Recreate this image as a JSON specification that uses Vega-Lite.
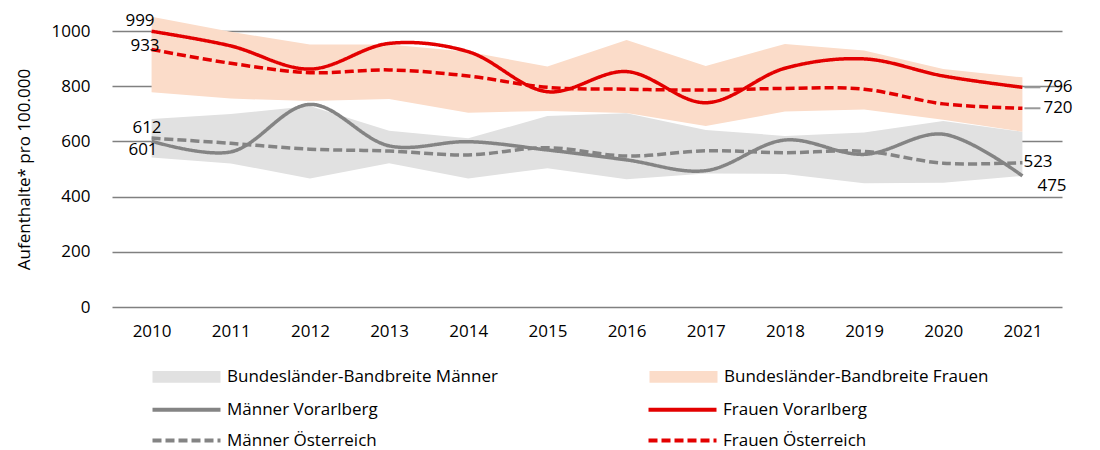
{
  "$schema": "https://vega.github.io/schema/vega-lite/v6.json",
  "width": 950,
  "height": 276,
  "autosize": {"type": "none"},
  "padding": {"left": 112, "top": 31, "right": 38, "bottom": 143},
  "config": {"font": "Open Sans", "view": {"stroke": null}},
  "datasets": {
    "bands": [
      {"year": "2010", "series": "Bundesländer-Bandbreite Männer", "low": 542, "high": 681},
      {"year": "2011", "series": "Bundesländer-Bandbreite Männer", "low": 520, "high": 699},
      {"year": "2012", "series": "Bundesländer-Bandbreite Männer", "low": 466, "high": 728},
      {"year": "2013", "series": "Bundesländer-Bandbreite Männer", "low": 521, "high": 639},
      {"year": "2014", "series": "Bundesländer-Bandbreite Männer", "low": 466, "high": 611},
      {"year": "2015", "series": "Bundesländer-Bandbreite Männer", "low": 503, "high": 692},
      {"year": "2016", "series": "Bundesländer-Bandbreite Männer", "low": 463, "high": 702},
      {"year": "2017", "series": "Bundesländer-Bandbreite Männer", "low": 484, "high": 641},
      {"year": "2018", "series": "Bundesländer-Bandbreite Männer", "low": 482, "high": 620},
      {"year": "2019", "series": "Bundesländer-Bandbreite Männer", "low": 448, "high": 632},
      {"year": "2020", "series": "Bundesländer-Bandbreite Männer", "low": 450, "high": 674},
      {"year": "2021", "series": "Bundesländer-Bandbreite Männer", "low": 475, "high": 635},
      {"year": "2010", "series": "Bundesländer-Bandbreite Frauen", "low": 778, "high": 1052},
      {"year": "2011", "series": "Bundesländer-Bandbreite Frauen", "low": 755, "high": 997},
      {"year": "2012", "series": "Bundesländer-Bandbreite Frauen", "low": 746, "high": 951},
      {"year": "2013", "series": "Bundesländer-Bandbreite Frauen", "low": 754, "high": 951},
      {"year": "2014", "series": "Bundesländer-Bandbreite Frauen", "low": 704, "high": 925},
      {"year": "2015", "series": "Bundesländer-Bandbreite Frauen", "low": 710, "high": 871},
      {"year": "2016", "series": "Bundesländer-Bandbreite Frauen", "low": 703, "high": 967},
      {"year": "2017", "series": "Bundesländer-Bandbreite Frauen", "low": 656, "high": 873},
      {"year": "2018", "series": "Bundesländer-Bandbreite Frauen", "low": 708, "high": 953},
      {"year": "2019", "series": "Bundesländer-Bandbreite Frauen", "low": 716, "high": 929},
      {"year": "2020", "series": "Bundesländer-Bandbreite Frauen", "low": 678, "high": 862},
      {"year": "2021", "series": "Bundesländer-Bandbreite Frauen", "low": 635, "high": 832}
    ],
    "lines": [
      {"year": "2010", "series": "Frauen Vorarlberg", "value": 999},
      {"year": "2011", "series": "Frauen Vorarlberg", "value": 946},
      {"year": "2012", "series": "Frauen Vorarlberg", "value": 862},
      {"year": "2013", "series": "Frauen Vorarlberg", "value": 955},
      {"year": "2014", "series": "Frauen Vorarlberg", "value": 925},
      {"year": "2015", "series": "Frauen Vorarlberg", "value": 780},
      {"year": "2016", "series": "Frauen Vorarlberg", "value": 853},
      {"year": "2017", "series": "Frauen Vorarlberg", "value": 740},
      {"year": "2018", "series": "Frauen Vorarlberg", "value": 865},
      {"year": "2019", "series": "Frauen Vorarlberg", "value": 899},
      {"year": "2020", "series": "Frauen Vorarlberg", "value": 837},
      {"year": "2021", "series": "Frauen Vorarlberg", "value": 796},
      {"year": "2010", "series": "Frauen Österreich", "value": 933},
      {"year": "2011", "series": "Frauen Österreich", "value": 883},
      {"year": "2012", "series": "Frauen Österreich", "value": 849},
      {"year": "2013", "series": "Frauen Österreich", "value": 859},
      {"year": "2014", "series": "Frauen Österreich", "value": 837},
      {"year": "2015", "series": "Frauen Österreich", "value": 796},
      {"year": "2016", "series": "Frauen Österreich", "value": 789},
      {"year": "2017", "series": "Frauen Österreich", "value": 786},
      {"year": "2018", "series": "Frauen Österreich", "value": 792},
      {"year": "2019", "series": "Frauen Österreich", "value": 789},
      {"year": "2020", "series": "Frauen Österreich", "value": 736},
      {"year": "2021", "series": "Frauen Österreich", "value": 720},
      {"year": "2010", "series": "Männer Vorarlberg", "value": 601},
      {"year": "2011", "series": "Männer Vorarlberg", "value": 562},
      {"year": "2012", "series": "Männer Vorarlberg", "value": 734},
      {"year": "2013", "series": "Männer Vorarlberg", "value": 584},
      {"year": "2014", "series": "Männer Vorarlberg", "value": 599},
      {"year": "2015", "series": "Männer Vorarlberg", "value": 569},
      {"year": "2016", "series": "Männer Vorarlberg", "value": 533},
      {"year": "2017", "series": "Männer Vorarlberg", "value": 494},
      {"year": "2018", "series": "Männer Vorarlberg", "value": 605},
      {"year": "2019", "series": "Männer Vorarlberg", "value": 553},
      {"year": "2020", "series": "Männer Vorarlberg", "value": 626},
      {"year": "2021", "series": "Männer Vorarlberg", "value": 475},
      {"year": "2010", "series": "Männer Österreich", "value": 612},
      {"year": "2011", "series": "Männer Österreich", "value": 593},
      {"year": "2012", "series": "Männer Österreich", "value": 572},
      {"year": "2013", "series": "Männer Österreich", "value": 565},
      {"year": "2014", "series": "Männer Österreich", "value": 551},
      {"year": "2015", "series": "Männer Österreich", "value": 577},
      {"year": "2016", "series": "Männer Österreich", "value": 547},
      {"year": "2017", "series": "Männer Österreich", "value": 566},
      {"year": "2018", "series": "Männer Österreich", "value": 559},
      {"year": "2019", "series": "Männer Österreich", "value": 564},
      {"year": "2020", "series": "Männer Österreich", "value": 521},
      {"year": "2021", "series": "Männer Österreich", "value": 523}
    ]
  },
  "encoding": {
    "x": {
      "field": "year",
      "type": "ordinal",
      "scale": {"type": "point", "padding": 0.5},
      "axis": {"title": null, "labelAngle": 0, "ticks": false, "domain": false, "grid": false, "labelPadding": 16, "labelFontSize": 17, "labelColor": "#000000"}
    }
  },
  "layer": [
    {
      "data": {"name": "bands"},
      "mark": {"type": "area", "opacity": 1},
      "encoding": {
        "y": {
          "field": "low",
          "type": "quantitative",
          "scale": {"domain": [0, 1000], "nice": false},
          "axis": {
            "title": "Aufenthalte* pro 100.000",
            "titleFontSize": 17,
            "titleFontWeight": "normal",
            "titleColor": "#000000",
            "titlePadding": 18,
            "values": [0, 200, 400, 600, 800, 1000],
            "format": "d",
            "ticks": false,
            "domain": false,
            "grid": true,
            "gridColor": "#808080",
            "gridWidth": 1.5,
            "labelPadding": 22,
            "labelFontSize": 17,
            "labelColor": "#000000"
          }
        },
        "y2": {"field": "high"},
        "fill": {
          "field": "series",
          "type": "nominal",
          "scale": {
            "domain": ["Bundesländer-Bandbreite Männer", "Bundesländer-Bandbreite Frauen"],
            "range": ["#e1e1e1", "#fbdcc9"]
          },
          "legend": {
            "orient": "none",
            "legendX": 64,
            "legendY": 335,
            "columns": 2,
            "direction": "horizontal",
            "title": null,
            "symbolType": "M-4,-0.68H4V0.68H-4Z",
            "symbolSize": 289,
            "symbolStrokeWidth": 4,
            "symbolStrokeColor": "transparent",
            "symbolOpacity": 1,
            "labelFontSize": 17,
            "labelColor": "#000000",
            "labelOffset": 30,
            "labelLimit": 400,
            "columnPadding": 143
          }
        }
      }
    },
    {
      "data": {"name": "lines"},
      "mark": {"type": "line", "strokeWidth": 3.5, "interpolate": "catmull-rom"},
      "encoding": {
        "y": {"field": "value", "type": "quantitative"},
        "color": {
          "field": "series",
          "type": "nominal",
          "scale": {
            "domain": ["Männer Vorarlberg", "Frauen Vorarlberg", "Männer Österreich", "Frauen Österreich"],
            "range": ["#848484", "#e30000", "#848484", "#e30000"]
          },
          "legend": {
            "orient": "none",
            "legendX": 64,
            "legendY": 368,
            "columns": 2,
            "direction": "horizontal",
            "title": null,
            "symbolType": "M-4,0H4",
            "symbolSize": 289,
            "symbolStrokeWidth": 4,
            "labelFontSize": 17,
            "labelColor": "#000000",
            "labelOffset": 30,
            "labelLimit": 400,
            "columnPadding": 262,
            "rowPadding": 12
          }
        },
        "strokeDash": {
          "field": "series",
          "type": "nominal",
          "scale": {
            "domain": ["Männer Vorarlberg", "Frauen Vorarlberg", "Männer Österreich", "Frauen Österreich"],
            "range": [[1, 0], [1, 0], [9, 4], [9, 4]]
          },
          "legend": {
            "orient": "none",
            "legendX": 64,
            "legendY": 368,
            "columns": 2,
            "direction": "horizontal",
            "title": null,
            "symbolType": "M-4,0H4",
            "symbolSize": 289,
            "symbolStrokeWidth": 4,
            "labelFontSize": 17,
            "labelColor": "#000000",
            "labelOffset": 30,
            "labelLimit": 400,
            "columnPadding": 262,
            "rowPadding": 12
          }
        }
      }
    },
    {
      "data": {"name": "lines"},
      "transform": [{"filter": "datum.year == '2021' && (datum.series == 'Frauen Vorarlberg' || datum.series == 'Frauen Österreich')"}],
      "mark": {"type": "rule", "color": "#999999", "strokeWidth": 2, "xOffset": 2, "x2Offset": 18},
      "encoding": {
        "y": {"field": "value", "type": "quantitative"},
        "x2": {"field": "year"}
      }
    },
    {
      "data": {"name": "lines"},
      "transform": [{"filter": "datum.year == '2010' && datum.series == 'Frauen Vorarlberg'"}],
      "mark": {"type": "text", "align": "right", "baseline": "middle", "dx": 3, "dy": -10, "fontSize": 17, "color": "#000000"},
      "encoding": {"y": {"field": "value", "type": "quantitative"}, "text": {"field": "value"}}
    },
    {
      "data": {"name": "lines"},
      "transform": [{"filter": "datum.year == '2010' && datum.series == 'Frauen Österreich'"}],
      "mark": {"type": "text", "align": "right", "baseline": "middle", "dx": 8, "dy": -3, "fontSize": 17, "color": "#000000"},
      "encoding": {"y": {"field": "value", "type": "quantitative"}, "text": {"field": "value"}}
    },
    {
      "data": {"name": "lines"},
      "transform": [{"filter": "datum.year == '2010' && datum.series == 'Männer Österreich'"}],
      "mark": {"type": "text", "align": "right", "baseline": "middle", "dx": 10, "dy": -10, "fontSize": 17, "color": "#000000"},
      "encoding": {"y": {"field": "value", "type": "quantitative"}, "text": {"field": "value"}}
    },
    {
      "data": {"name": "lines"},
      "transform": [{"filter": "datum.year == '2010' && datum.series == 'Männer Vorarlberg'"}],
      "mark": {"type": "text", "align": "right", "baseline": "middle", "dx": 6, "dy": 9, "fontSize": 17, "color": "#000000"},
      "encoding": {"y": {"field": "value", "type": "quantitative"}, "text": {"field": "value"}}
    },
    {
      "data": {"name": "lines"},
      "transform": [{"filter": "datum.year == '2021' && (datum.series == 'Frauen Vorarlberg' || datum.series == 'Frauen Österreich')"}],
      "mark": {"type": "text", "align": "left", "baseline": "middle", "dx": 21, "dy": 0, "fontSize": 17, "color": "#000000"},
      "encoding": {"y": {"field": "value", "type": "quantitative"}, "text": {"field": "value"}}
    },
    {
      "data": {"name": "lines"},
      "transform": [{"filter": "datum.year == '2021' && datum.series == 'Männer Österreich'"}],
      "mark": {"type": "text", "align": "left", "baseline": "middle", "dx": 1, "dy": -1, "fontSize": 17, "color": "#000000"},
      "encoding": {"y": {"field": "value", "type": "quantitative"}, "text": {"field": "value"}}
    },
    {
      "data": {"name": "lines"},
      "transform": [{"filter": "datum.year == '2021' && datum.series == 'Männer Vorarlberg'"}],
      "mark": {"type": "text", "align": "left", "baseline": "middle", "dx": 15, "dy": 10, "fontSize": 17, "color": "#000000"},
      "encoding": {"y": {"field": "value", "type": "quantitative"}, "text": {"field": "value"}}
    }
  ]
}
